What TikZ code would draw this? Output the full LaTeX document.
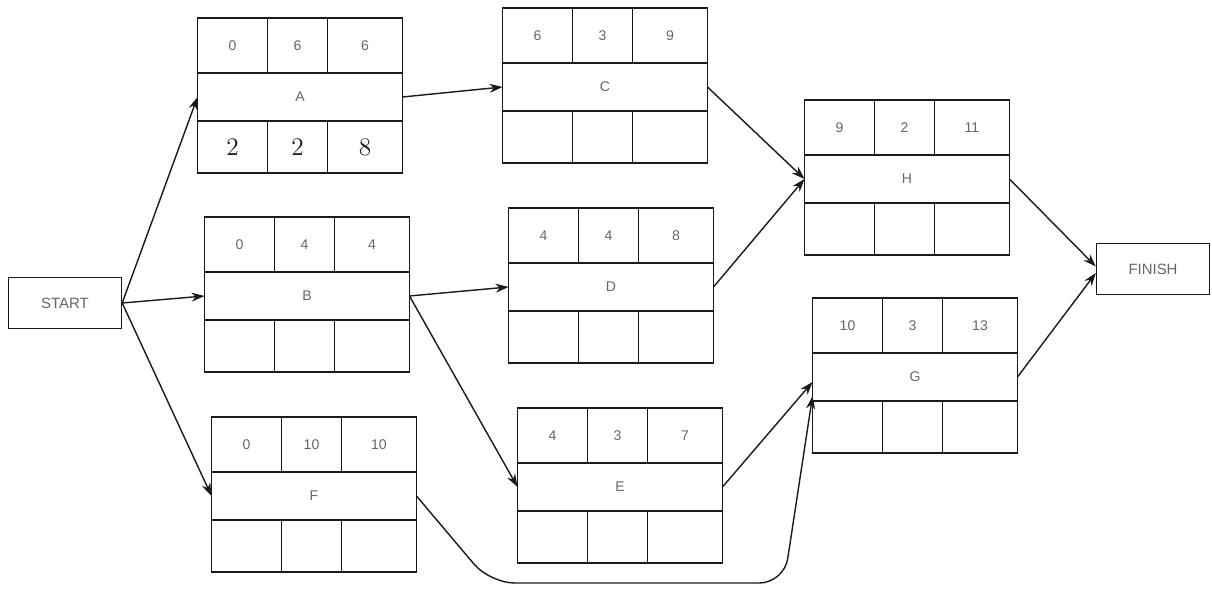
\documentclass[tikz,border=0pt]{standalone}
\usepackage{fontspec}
\setsansfont{Liberation Sans}
\usetikzlibrary{arrows.meta,positioning}
\definecolor{NetLine}{HTML}{1A1A1A}
\definecolor{NetText}{HTML}{666666}
\tikzset{
  endbox/.style={draw=NetLine,line width=0.8pt,minimum width=2.26cm,minimum height=1.02cm,font=\sffamily\fontsize{8.5}{10}\selectfont,text=NetText},
  namecell/.style={draw=NetLine,line width=0.8pt,outer sep=0pt,minimum width=4.1cm,minimum height=0.96cm,font=\sffamily\fontsize{8}{9}\selectfont,text=NetText},
  topcell/.style={draw=NetLine,line width=0.8pt,outer sep=0pt,minimum height=1.1cm,font=\sffamily\fontsize{8}{9}\selectfont,text=NetText},
  lowcell/.style={draw=NetLine,line width=0.8pt,outer sep=0pt,minimum height=1.04cm,font=\rmfamily\Large,text=NetLine},
  netarrow/.style={-{Stealth[length=2.6mm,width=1.8mm]},line width=0.8pt,draw=NetLine}
}
% name, position, label, ES, duration, EF, LS, slack, LF
\newcommand{\activity}[9]{%
  \node[namecell] (#1) at (#2) {#3};
  \node[topcell,minimum width=1.4cm,anchor=south west] (#1-es) at (#1.north west) {#4};
  \node[topcell,minimum width=1.2cm,right=0pt of #1-es] (#1-du) {#5};
  \node[topcell,minimum width=1.5cm,right=0pt of #1-du] (#1-ef) {#6};
  \node[lowcell,minimum width=1.4cm,anchor=north west] (#1-ls) at (#1.south west) {#7};
  \node[lowcell,minimum width=1.2cm,right=0pt of #1-ls] (#1-sl) {#8};
  \node[lowcell,minimum width=1.5cm,right=0pt of #1-sl] (#1-lf) {#9};
}

\begin{document}
\begin{tikzpicture}[x=0.02cm,y=-0.02cm]
\useasboundingbox (0,0) rectangle (1212,614);
\node[endbox] (start) at (65,303) {START};
\node[endbox] (finish) at (1153,269) {FINISH};
\activity{A}{300,97}{A}{0}{6}{6}{2}{2}{8}
\activity{B}{307,296}{B}{0}{4}{4}{}{}{}
\activity{F}{314,496}{F}{0}{10}{10}{}{}{}
\activity{C}{605,87}{C}{6}{3}{9}{}{}{}
\activity{D}{611,287}{D}{4}{4}{8}{}{}{}
\activity{E}{620,487}{E}{4}{3}{7}{}{}{}
\activity{H}{907,179}{H}{9}{2}{11}{}{}{}
\activity{G}{915,377}{G}{10}{3}{13}{}{}{}
\coordinate (fgdown) at (490,583);
\coordinate (fgup) at (784,583);
\draw[netarrow] (start.east)--(A.west);
\draw[netarrow] (start.east)--(B.west);
\draw[netarrow] (start.east)--(F.west);
\draw[netarrow] (A.east)--(C.west);
\draw[netarrow] (B.east)--(D.west);
\draw[netarrow] (B.east)--(E.west);
\draw[netarrow] (C.east)--(H.west);
\draw[netarrow] (D.east)--(H.west);
\draw[netarrow] (E.east)--([yshift=-0.1cm]G.west);
\draw[netarrow,rounded corners=14pt] (F.east)--(fgdown)--(fgup)--([yshift=-0.38cm]G.west);
\draw[netarrow] (H.east)--([yshift=0.05cm]finish.west);
\draw[netarrow] (G.east)--([yshift=-0.08cm]finish.west);
\end{tikzpicture}
\end{document}
